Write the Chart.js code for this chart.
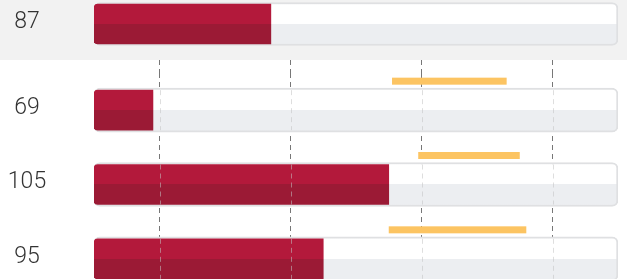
<!DOCTYPE html>
<html>
<head>
<meta charset="utf-8">
<script src="https://cdn.jsdelivr.net/npm/chart.js@4.4.1/dist/chart.umd.min.js"></script>
<style>
  html, body { margin: 0; padding: 0; width: 627px; height: 279px; overflow: hidden; background: #fff; }
  #topRow { position: absolute; left: 0; top: 0; width: 627px; height: 60px; background: #f2f2f2; }
  #listRows { position: absolute; left: 0; top: 60px; width: 627px; height: 236px; }
</style>
</head>
<body>
<div id="topRow"><canvas id="topChart"></canvas></div>
<div id="listRows"><canvas id="listChart"></canvas></div>
<script>
// ===================== Data =====================
const headValues = [87];             // highlighted row
const rowValues = [69, 105, 95];     // rows below
const targetLow = [105.5, 109.5, 105];
const targetHigh = [123, 125, 126];
const gridValues = [70, 90, 110, 130];
const xMin = 60;
const xMax = 140;

// ===================== Colours =====================
const RED_TOP = "#b3193b";
const RED_BOTTOM = "#9b1a35";
const TRACK_TOP = "#ffffff";
const TRACK_BOTTOM = "#eceef1";
const TARGET = "#fcc462";

// two-tone fill, split in the middle of the bar
function splitFill(top, bottom, thick) {
  return (ctx) => {
    const chart = ctx.chart;
    if (!chart.chartArea || ctx.dataIndex === undefined) return bottom;
    const yc = chart.scales.y.getPixelForValue(ctx.dataIndex);
    const g = chart.ctx.createLinearGradient(0, yc - thick / 2, 0, yc + thick / 2);
    g.addColorStop(0, top);
    g.addColorStop(0.5, top);
    g.addColorStop(0.5, bottom);
    g.addColorStop(1, bottom);
    return g;
  };
}

function rowDatasets(values, trackH, barH) {
  return [
    {
      label: "value",
      data: values,
      base: xMin,
      order: 1,
      barThickness: barH,
      backgroundColor: splitFill(RED_TOP, RED_BOTTOM, barH),
      borderWidth: 0,
      borderSkipped: false,
      borderRadius: { topLeft: 4, bottomLeft: 4, topRight: 0, bottomRight: 0 },
    },
    {
      label: "track",
      data: values.map(() => xMax),
      base: xMin,
      order: 2,
      barThickness: trackH,
      backgroundColor: splitFill(TRACK_TOP, TRACK_BOTTOM, trackH),
      borderColor: "#dfe0e2",
      borderWidth: 2,
      borderSkipped: false,
      borderRadius: 6,
    },
  ];
}

// ===================== Plugins =====================
// value labels on the left
const rowLabels = {
  id: "rowLabels",
  afterDraw(chart) {
    const { ctx, scales } = chart;
    ctx.save();
    ctx.font = "300 23px Roboto";
    ctx.fillStyle = "#333";
    ctx.textAlign = "center";
    ctx.textBaseline = "middle";
    chart.data.labels.forEach((lab, i) => {
      ctx.fillText(lab, 27, scales.y.getPixelForValue(i) - 2);
    });
    ctx.restore();
  },
};

// faint grid lines through the tracks + target ranges above them
const listExtras = {
  id: "listExtras",
  afterDatasetsDraw(chart) {
    const { ctx, scales } = chart;
    const track = chart.getDatasetMeta(1).data;
    ctx.save();
    ctx.strokeStyle = "rgba(195,195,195,0.55)";
    ctx.lineWidth = 1;
    ctx.setLineDash([5, 4]);
    gridValues.forEach((v) => {
      const x = Math.round(scales.x.getPixelForValue(v)) + 0.5;
      track.forEach((el) => {
        const { y, height } = el.getProps(["y", "height"], true);
        ctx.beginPath();
        ctx.moveTo(x, y - height / 2 + 2);
        ctx.lineTo(x, y + height / 2 - 2);
        ctx.stroke();
      });
    });
    ctx.setLineDash([]);
    ctx.fillStyle = TARGET;
    targetLow.forEach((lo, i) => {
      const x0 = scales.x.getPixelForValue(lo);
      const x1 = scales.x.getPixelForValue(targetHigh[i]);
      const yc = scales.y.getPixelForValue(i) - 29;
      ctx.fillRect(x0, yc - 3.5, x1 - x0, 7);
    });
    ctx.restore();
  },
};

const baseOptions = {
  indexAxis: "y",
  responsive: true,
  maintainAspectRatio: false,
  animation: false,
  plugins: { legend: { display: false }, tooltip: { enabled: false } },
};

// ===================== Highlighted row =====================
new Chart(document.getElementById("topChart"), {
  type: "bar",
  data: { labels: headValues.map(String), datasets: rowDatasets(headValues, 43, 40) },
  options: {
    ...baseOptions,
    layout: { padding: { left: 94, right: 9, top: 0, bottom: 12 } },
    datasets: { bar: { grouped: false } },
    scales: {
      x: { type: "linear", min: xMin, max: xMax, display: false },
      y: { type: "category", display: false },
    },
  },
  plugins: [rowLabels],
});

// ===================== Row list =====================
new Chart(document.getElementById("listChart"), {
  type: "bar",
  data: { labels: rowValues.map(String), datasets: rowDatasets(rowValues, 44, 40) },
  options: {
    ...baseOptions,
    layout: { padding: { left: 94, right: 9, top: 0, bottom: 0 } },
    datasets: { bar: { grouped: false } },
    scales: {
      x: {
        type: "linear",
        position: "top",
        min: xMin,
        max: xMax,
        afterBuildTicks: (scale) => {
          scale.ticks = gridValues.map((v) => ({ value: v }));
        },
        ticks: { display: false },
        border: { display: false, dash: [5, 4] },
        grid: {
          color: "#777",
          lineWidth: 1,
          drawTicks: true,
          tickLength: 13,
          tickColor: "#777",
          tickBorderDash: [5, 4],
        },
      },
      y: { type: "category", display: false },
    },
  },
  plugins: [rowLabels, listExtras],
});
</script>
</body>
</html>
